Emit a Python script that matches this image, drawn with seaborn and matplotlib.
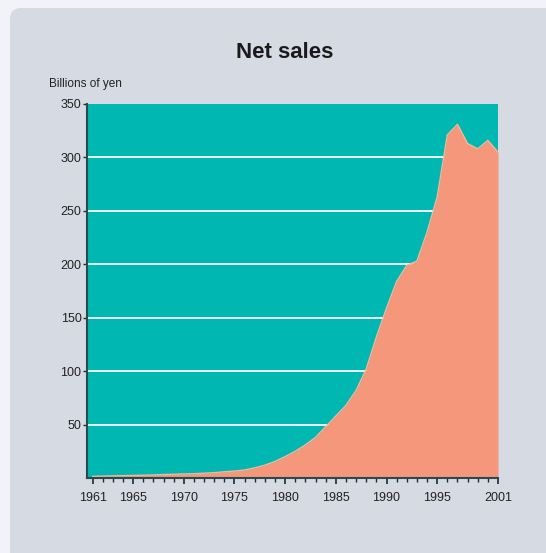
import numpy as np
import pandas as pd
import seaborn as sns
import matplotlib.pyplot as plt
from matplotlib.patches import FancyBboxPatch
from matplotlib.ticker import MultipleLocator

years = list(range(1961, 2002))
net_sales = [1.5, 1.8, 2.0, 2.2, 2.4, 2.6, 2.9, 3.2, 3.5, 3.8,
             4.0, 4.5, 5.0, 5.8, 6.5, 7.5, 9.5, 12.0, 15.5, 20.0,
             25.0, 31.0, 38.0, 48.0, 58.0, 68.0, 82.0, 102.0, 132.0, 159.0,
             184.0, 199.0, 203.0, 230.0, 263.0, 321.0, 331.0, 313.0, 308.0, 316.0,
             305.0]
tick_years = [1961, 1965, 1970, 1975, 1980, 1985, 1990, 1995, 2001]
y_ticks = [50, 100, 150, 200, 250, 300, 350]

df = pd.DataFrame({"year": years, "sales": net_sales})

sns.set_theme(style="white")
plt.rcParams["font.family"] = ["Liberation Sans", "DejaVu Sans"]

teal = "#00b8b1"
salmon = "#f4977a"
panel = "#d6dae3"

fig = plt.figure(figsize=(5.46, 5.53), dpi=100, facecolor="#f2f3f6")
# rounded grey panel behind everything
bg = FancyBboxPatch((10 / 546, -0.05), 1.2, 1.0 - 8 / 553 + 0.05,
                    boxstyle="round,pad=0,rounding_size=0.02",
                    transform=fig.transFigure, facecolor=panel,
                    edgecolor="none", zorder=-10)
fig.patches.append(bg)

ax = fig.add_axes([87 / 546, 1 - 478 / 553, (498 - 87) / 546, (478 - 104) / 553])
ax.set_zorder(1)
ax.set_facecolor(teal)

ax.fill_between(df["year"], df["sales"], 0, color=salmon, lw=0, zorder=3)
sns.lineplot(data=df, x="year", y="sales", ax=ax, color="#f9b49c", lw=1.0, zorder=4)

for v in y_ticks[:-1]:
    ax.axhline(v, color="white", lw=1.3, zorder=2)

ax.set_xlim(1960.45, 2001)
ax.set_ylim(0, 350)
ax.set_xticks(tick_years)
ax.xaxis.set_minor_locator(MultipleLocator(1))
ax.set_yticks(y_ticks)
ax.tick_params(axis="x", which="major", direction="out", length=4, width=1.2,
               color="#1e2a30", labelsize=9, labelcolor="#222222", pad=6, bottom=True)
ax.tick_params(axis="x", which="minor", direction="out", length=3, width=1.0,
               color="#1e2a30", bottom=True)
ax.tick_params(axis="y", direction="out", length=3, width=1.0, color="#1e2a30",
               labelsize=9, labelcolor="#222222", pad=1, left=True)
ax.set_xlabel("")
ax.set_ylabel("")

for side in ["top", "right"]:
    ax.spines[side].set_visible(False)
for side in ["left", "bottom"]:
    ax.spines[side].set_color("#2a4a50")
    ax.spines[side].set_linewidth(1.5)
    ax.spines[side].set_zorder(5)

fig.text(285 / 546, 1 - 52 / 553, "Net sales", ha="center", va="center",
         fontsize=16, fontweight="bold", color="#1a1a1a")
fig.text(49 / 546, 1 - 84 / 553, "Billions of yen", ha="left", va="center",
         fontsize=8.5, color="#222222")

fig.savefig("out.png", dpi=100, facecolor=fig.get_facecolor())
